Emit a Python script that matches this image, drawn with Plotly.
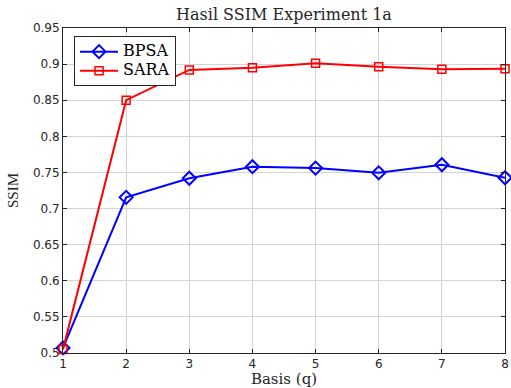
import plotly.graph_objects as go

basis = [1, 2, 3, 4, 5, 6, 7, 8]
ssim_bpsa = [0.507, 0.7155, 0.742, 0.758, 0.756, 0.7495, 0.7607, 0.7427]
ssim_sara = [0.505, 0.850, 0.892, 0.895, 0.9013, 0.8963, 0.893, 0.8935]
series_names = ["BPSA", "SARA"]

# legend entries are typeset a bit larger than the legend's row height
legend_label = "<span style='font-size:16px'>{}</span>"

fig = go.Figure()
fig.add_trace(go.Scatter(
    x=basis, y=ssim_bpsa, name=legend_label.format(series_names[0]), mode="lines+markers",
    line=dict(color="#0000ff", width=2),
    marker=dict(symbol="diamond-open", size=10, color="#0000ff", line=dict(width=2)),
    cliponaxis=False,
))
fig.add_trace(go.Scatter(
    x=basis, y=ssim_sara, name=legend_label.format(series_names[1]), mode="lines+markers",
    line=dict(color="#ff0000", width=2),
    marker=dict(symbol="square-open", size=8, color="#ff0000", line=dict(width=1.5)),
    cliponaxis=False,
))

serif = "DejaVu Serif, Liberation Serif"
axis_common = dict(
    showgrid=True, gridcolor="#d4d4d4", gridwidth=1,
    showline=True, linecolor="#262626", linewidth=1, mirror="ticks",
    ticks="inside", ticklen=4, tickcolor="#262626",
    tickfont=dict(family="DejaVu Sans, Liberation Sans", size=12, color="#262626"),
    zeroline=False,
)

fig.update_layout(
    width=511, height=388,
    margin=dict(l=63, r=2, t=28, b=35),
    paper_bgcolor="white", plot_bgcolor="white",
    title=dict(text="Hasil SSIM Experiment 1a", xref="paper", x=0.5, xanchor="center",
               y=0.977, yanchor="top",
               font=dict(family=serif, size=16, color="#262626")),
    xaxis=dict(range=[1, 8], dtick=1, tick0=1, ticklabeloverflow="allow",
               title=dict(text="Basis (q)", standoff=3,
                          font=dict(family=serif, size=15, color="#262626")),
               **axis_common),
    yaxis=dict(range=[0.5, 0.95], dtick=0.05, tick0=0.5,
               title=dict(text="SSIM", standoff=10,
                          font=dict(family="Liberation Serif, DejaVu Serif", size=15, color="#262626")),
               **axis_common),
    legend=dict(x=0.025, y=0.975, xanchor="left", yanchor="top",
                bgcolor="white", bordercolor="#262626", borderwidth=1,
                font=dict(family=serif, size=11, color="#000000"),
                tracegroupgap=0, itemwidth=38),
    showlegend=True,
)

fig.write_html("out.html")
